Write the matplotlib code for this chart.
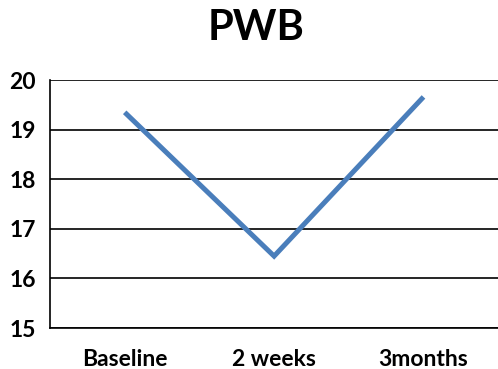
import matplotlib
matplotlib.use("Agg")
import matplotlib.pyplot as plt

# ── Data ──────────────────────────────────────────────────────────────────────
timepoints = ["Baseline", "2 weeks", "3months"]
pwb_scores = [19.35, 16.45, 19.66]
y_ticks = [15, 16, 17, 18, 19, 20]

LINE_BLUE = "#4A7EBB"
FONT = "Lato"

fig = plt.figure(figsize=(4.98, 3.69), dpi=100)
ax = fig.add_axes([0.1004, 0.111, 0.9, 0.672])

x = range(len(timepoints))
ax.plot(x, pwb_scores, color=LINE_BLUE, lw=3.6, solid_capstyle="butt",
        solid_joinstyle="miter", zorder=3)

ax.set_xlim(-0.5, len(timepoints) - 0.5)
ax.set_ylim(15, 20)
ax.set_yticks(y_ticks)
ax.set_xticks(list(x))
ax.set_xticklabels(timepoints, fontsize=16.5, fontweight="bold", family=FONT)
ax.set_yticklabels([str(v) for v in y_ticks], fontsize=16.5, fontweight="bold",
                   family=FONT)
ax.tick_params(length=0, pad=10)
ax.tick_params(axis="x", pad=15)

ax.grid(axis="y", color="black", lw=1.2, zorder=1)
ax.set_axisbelow(True)
for side in ["top", "right"]:
    ax.spines[side].set_visible(False)
for side in ["left", "bottom"]:
    ax.spines[side].set_color("black")
    ax.spines[side].set_linewidth(1.2)

fig.text(0.515, 0.925, "PWB", ha="center", va="center", fontsize=30,
         fontweight="bold", family=FONT)

fig.savefig("out.png", dpi=100)
